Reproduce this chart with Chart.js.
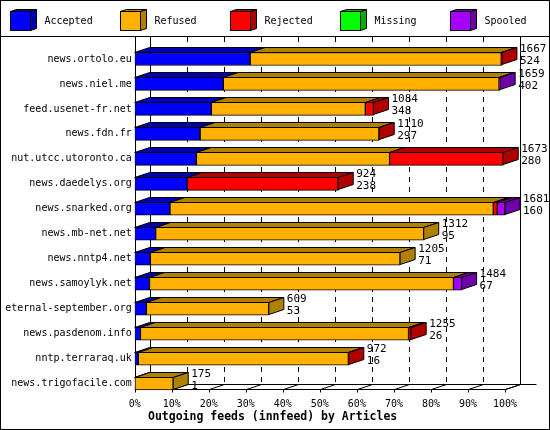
<!DOCTYPE html>
<html><head><meta charset="utf-8">
<script src="https://cdn.jsdelivr.net/npm/chart.js@4.4.0/dist/chart.umd.min.js"></script>
<style>html,body{margin:0;padding:0;background:#fff}#w{width:550px;height:430px}</style>
</head><body><div id="w"><canvas id="c" width="550" height="430"></canvas></div>
<script>
const categories = ["news.ortolo.eu","news.niel.me","feed.usenet-fr.net","news.fdn.fr","nut.utcc.utoronto.ca","news.daedelys.org","news.snarked.org","news.mb-net.net","news.nntp4.net","news.samoylyk.net","eternal-september.org","news.pasdenom.info","nntp.terraraq.uk","news.trigofacile.com"];
const totals   = [1667,1659,1084,1110,1673,924,1681,1312,1205,1484,609,1255,972,175];
const accepted = [524,402,348,297,280,238,160,95,71,67,53,26,16,1];
const refused  = [1140,1252,699,812,877,0,1468,1217,1134,1380,556,1217,954,174];
const rejected = [3,0,37,1,516,686,18,0,0,0,0,12,2,0];
const missing  = [0,0,0,0,0,0,0,0,0,0,0,0,0,0];
const spooled  = [0,5,0,0,0,0,35,0,0,37,0,0,0,0];
const seriesNames = ["Accepted","Refused","Rejected","Missing","Spooled"];
const tickPercents = [0,10,20,30,40,50,60,70,80,90,100];
const axisMax = 1681;

const front = ["#0000ff","#ffb000","#ff0000","#00ff00","#a800ff"];
const dark  = ["#0000b0","#b08000","#b00000","#00b000","#7000a8"];
const DX = 15, DY = 5;
const MONO = "'DejaVu Sans Mono', monospace";
const series = [accepted, refused, rejected, missing, spooled];

const plugin3d = {
  id: 'p3d',
  beforeDraw(chart) {
    const ctx = chart.ctx, x = chart.scales.x;
    ctx.save();
    ctx.fillStyle = '#fff'; ctx.fillRect(0,0,550,430);
    ctx.strokeStyle = '#000'; ctx.lineWidth = 1;
    ctx.strokeRect(0.5,0.5,549,429);
    ctx.beginPath(); ctx.moveTo(0,36.5); ctx.lineTo(550,36.5); ctx.stroke();
    ctx.font = "10px " + MONO; ctx.textBaseline = 'middle'; ctx.textAlign = 'left';
    seriesNames.forEach((n,i) => {
      const lx = 10.5 + i*110, ly = 11.5;
      ctx.fillStyle = dark[i];
      ctx.beginPath(); ctx.moveTo(lx+20,ly); ctx.lineTo(lx+26,ly-2); ctx.lineTo(lx+26,ly+17); ctx.lineTo(lx+20,ly+19); ctx.closePath(); ctx.fill(); ctx.stroke();
      ctx.beginPath(); ctx.moveTo(lx,ly); ctx.lineTo(lx+6,ly-2); ctx.lineTo(lx+26,ly-2); ctx.lineTo(lx+20,ly); ctx.closePath(); ctx.fill(); ctx.stroke();
      ctx.fillStyle = front[i]; ctx.fillRect(lx,ly,20,19); ctx.strokeRect(lx,ly,20,19);
      ctx.fillStyle = '#000'; ctx.fillText(n, lx+34, ly+10);
    });
    const yb = 384.5, yf = 389.5;
    ctx.setLineDash([5,5]);
    tickPercents.forEach(p => {
      if (p===0||p===100) return;
      const px = Math.round(x.getPixelForValue(axisMax*p/100)) + DX + 0.5;
      ctx.beginPath(); ctx.moveTo(px,37); ctx.lineTo(px,yb); ctx.stroke();
    });
    ctx.setLineDash([]);
    const x0 = Math.round(x.getPixelForValue(0))+0.5, x1 = Math.round(x.getPixelForValue(axisMax))+0.5;
    ctx.beginPath();
    ctx.moveTo(x0+DX,37); ctx.lineTo(x0+DX,yb); ctx.lineTo(x1+DX,yb);
    ctx.moveTo(x1+DX,37); ctx.lineTo(x1+DX,yb); ctx.lineTo(x1+DX+16,yb);
    ctx.moveTo(x0,37); ctx.lineTo(x0,yf); ctx.lineTo(x1,yf); ctx.lineTo(x1+DX,yb);
    ctx.stroke();
    tickPercents.forEach(p => {
      const px = Math.round(x.getPixelForValue(axisMax*p/100)) + 0.5;
      ctx.beginPath(); ctx.moveTo(px,yf+3); ctx.lineTo(px,yf); ctx.lineTo(px+DX,yb); ctx.stroke();
    });
    ctx.fillStyle = '#000'; ctx.font = "bold 11.5px " + MONO; ctx.textAlign='left';
    ctx.fillText("Outgoing feeds (innfeed) by Articles", 148, 417);
    ctx.restore();
  },
  afterDatasetsDraw(chart) {
    const ctx = chart.ctx;
    ctx.save(); ctx.strokeStyle = '#000'; ctx.lineWidth = 1;
    categories.forEach((c, j) => {
      let last = -1, endX = 0, top = 0, bot = 0;
      series.forEach((s, i) => {
        const el = chart.getDatasetMeta(i).data[j];
        if (!s[j]) return;
        const l = Math.min(el.x, el.base), r = Math.max(el.x, el.base);
        top = Math.round(el.y - el.height/2)+0.5; bot = top + 12;
        ctx.fillStyle = dark[i];
        ctx.beginPath(); ctx.moveTo(l,top); ctx.lineTo(l+DX,top-DY); ctx.lineTo(r+DX,top-DY); ctx.lineTo(r,top); ctx.closePath(); ctx.fill(); ctx.stroke();
        last = i; endX = r;
      });
      if (last >= 0) {
        ctx.fillStyle = dark[last];
        ctx.beginPath(); ctx.moveTo(endX,top); ctx.lineTo(endX+DX,top-DY); ctx.lineTo(endX+DX,bot-DY); ctx.lineTo(endX,bot); ctx.closePath(); ctx.fill(); ctx.stroke();
        ctx.fillStyle = '#000'; ctx.font = "11px " + MONO; ctx.textAlign='left'; ctx.textBaseline='middle';
        ctx.fillText(String(totals[j]), endX+DX+3, top-3);
        ctx.fillText(String(accepted[j]), endX+DX+3, top+9);
      }
    });
    ctx.restore();
  }
};

new Chart(document.getElementById('c'), {
  type: 'bar',
  data: {
    labels: categories,
    datasets: series.map((s,i) => ({label: seriesNames[i], data: s, backgroundColor: front[i], borderColor:'#000', borderWidth: 1, borderSkipped: false, barThickness: 13}))
  },
  options: {
    indexAxis: 'y', responsive: false, animation: false,
    layout: {padding: {left: 0, right: 45, top: 46.5, bottom: 0}},
    plugins: {legend: {display: false}, tooltip: {enabled: false}},
    scales: {
      x: {stacked: true, min: 0, max: axisMax,
        afterFit(s){ s.height = 34; },
        afterBuildTicks(s){ s.ticks = tickPercents.map(p => ({value: axisMax*p/100})); },
        ticks: {autoSkip:false, maxRotation:0, padding: 2, color:'#000', font:{family:MONO, size:10},
          callback(v, i){ return tickPercents[i] + '%'; }},
        grid: {display:false, drawTicks:false, tickLength:0}, border:{display:false}},
      y: {stacked: true,
        afterFit(s){ s.width = 134.7; },
        ticks: {padding: 3, color:'#000', font:{family:MONO, size:10}},
        grid: {display:false, drawTicks:false, tickLength:0}, border:{display:false}}
    }
  },
  plugins: [plugin3d]
});
</script></body></html>
